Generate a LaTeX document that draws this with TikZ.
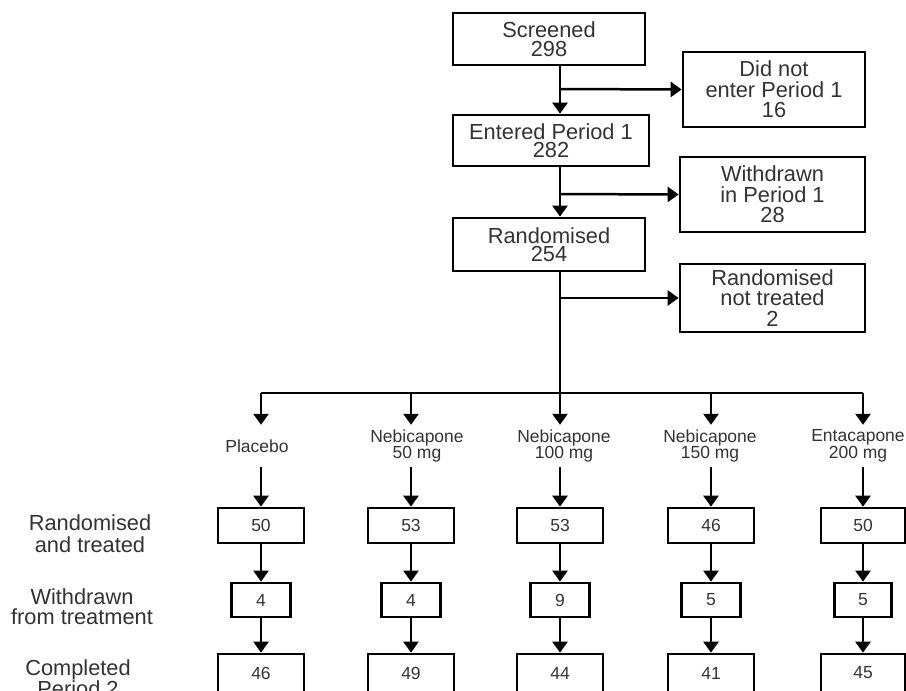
\documentclass[tikz,border=0pt]{standalone}
\usepackage{fontspec}
\setmainfont{Liberation Sans}
\usepackage{tikz}
\usetikzlibrary{arrows.meta}

\tikzset{
  flowbox/.style={draw=black, line width=2.7pt, text=black!80, align=center, inner sep=0pt},
  topbox/.style={flowbox, font=\fontsize{21.8}{18.5}\selectfont},
  sidebox/.style={flowbox, font=\fontsize{21.8}{20.5}\selectfont},
  numbox/.style={flowbox, font=\fontsize{17.5}{18}\selectfont},
  armlabel/.style={text=black!80, align=center, minimum height=42pt, inner sep=0pt, font=\fontsize{17.5}{16.5}\selectfont},
  rowlabel/.style={text=black!80, align=center, inner sep=0pt},
  arr/.style={line width=2.5pt, -{Triangle[width=15pt,length=11pt]}},
  ln/.style={line width=2.5pt}
}

\begin{document}
\begin{tikzpicture}[x=1pt, y=-1pt]
        \clip (0,0) rectangle (906,691);
        \fill[white] (0,0) rectangle (906,691);

        % main column
        \node[topbox, minimum width=192pt, minimum height=52pt] (screened) at (549, 39) {Screened\\298};
        \node[topbox, minimum width=196pt, minimum height=51pt] (entered) at (551, 140.5) {Entered Period 1\\282};
        \node[topbox, minimum width=192pt, minimum height=53pt] (random) at (549, 244.5) {Randomised\\254};

        % side boxes
        \node[sidebox, minimum width=182pt, minimum height=75pt] (noentry) at (774, 89.5) {Did not\\enter Period 1\\16};
        \node[sidebox, minimum width=185pt, minimum height=75pt] (wdperiod) at (772.5, 194.5) {Withdrawn\\in Period 1\\28};
        \node[sidebox, minimum width=185pt, minimum height=68pt] (nottreated) at (772.5, 298) {Randomised\\not treated\\2};

        \coordinate (b1) at (560, 89);
        \coordinate (b2) at (560, 194);
        \coordinate (b3) at (560, 298);
        \coordinate (split) at (560, 393);

        \draw[arr] (screened.south -| b1) -- (entered.north -| b1);
        \draw[arr] (b1) -- (noentry.west);
        \draw[arr] (entered.south -| b2) -- (random.north -| b2);
        \draw[arr] (b2) -- (wdperiod.west);
        \draw[ln] (random.south -| b3) -- (split);
        \draw[arr] (b3) -- (nottreated.west);

        % arms
        \coordinate (h1) at (261, 393);
        \coordinate (h5) at (863, 393);
        \draw[ln] (h1) -- (h5);

        \node[armlabel] (arm1) at (257, 446) {Placebo};
        \node[armlabel] (arm2) at (417, 446) {Nebicapone\\50 mg};
        \node[armlabel] (arm3) at (564, 446) {Nebicapone\\100 mg};
        \node[armlabel] (arm4) at (710, 446) {Nebicapone\\150 mg};
        \node[armlabel] (arm5) at (858, 446) {Entacapone\\200 mg};

        % randomised and treated
        \node[numbox, minimum width=86pt, minimum height=35pt] (rt1) at (261, 525.5) {50};
        \node[numbox, minimum width=86pt, minimum height=35pt] (rt2) at (411, 525.5) {53};
        \node[numbox, minimum width=86pt, minimum height=35pt] (rt3) at (560, 525.5) {53};
        \node[numbox, minimum width=86pt, minimum height=35pt] (rt4) at (711, 525.5) {46};
        \node[numbox, minimum width=84pt, minimum height=35pt] (rt5) at (863, 525.5) {50};

        % withdrawn from treatment
        \node[numbox, minimum width=59pt, minimum height=34pt] (wd1) at (261, 600) {4};
        \node[numbox, minimum width=59pt, minimum height=34pt] (wd2) at (411, 600) {4};
        \node[numbox, minimum width=59pt, minimum height=34pt] (wd3) at (560, 600) {9};
        \node[numbox, minimum width=59pt, minimum height=34pt] (wd4) at (711, 600) {5};
        \node[numbox, minimum width=57pt, minimum height=34pt] (wd5) at (863, 600) {5};

        % completed period 2
        \node[numbox, minimum width=86pt, minimum height=38pt] (cp1) at (261, 673) {46};
        \node[numbox, minimum width=86pt, minimum height=38pt] (cp2) at (411, 673) {49};
        \node[numbox, minimum width=86pt, minimum height=38pt] (cp3) at (560, 673) {44};
        \node[numbox, minimum width=86pt, minimum height=38pt] (cp4) at (711, 673) {41};
        \node[numbox, minimum width=84pt, minimum height=38pt] (cp5) at (863, 673) {45};

        \draw[arr] (h1) -- (h1 |- arm1.north);
        \draw[arr] (arm1.south -| rt1) -- (rt1.north);
        \draw[arr] (rt1) -- (wd1.north);
        \draw[arr] (wd1) -- (cp1.north);

        \draw[arr] (split -| rt2) -- (arm2.north -| rt2);
        \draw[arr] (arm2.south -| rt2) -- (rt2.north);
        \draw[arr] (rt2) -- (wd2.north);
        \draw[arr] (wd2) -- (cp2.north);

        \draw[arr] (split) -- (arm3.north -| split);
        \draw[arr] (arm3.south -| rt3) -- (rt3.north);
        \draw[arr] (rt3) -- (wd3.north);
        \draw[arr] (wd3) -- (cp3.north);

        \draw[arr] (split -| rt4) -- (arm4.north -| rt4);
        \draw[arr] (arm4.south -| rt4) -- (rt4.north);
        \draw[arr] (rt4) -- (wd4.north);
        \draw[arr] (wd4) -- (cp4.north);

        \draw[arr] (h5) -- (h5 |- arm5.north);
        \draw[arr] (arm5.south -| rt5) -- (rt5.north);
        \draw[arr] (rt5) -- (wd5.north);
        \draw[arr] (wd5) -- (cp5.north);

        % row labels
        \node[rowlabel, font=\fontsize{21.8}{22}\selectfont] (lrt) at (90, 534) {Randomised\\and treated};
        \node[rowlabel, font=\fontsize{21.8}{20}\selectfont] (lwd) at (82, 607) {Withdrawn\\from treatment};
        \node[rowlabel, font=\fontsize{21.8}{21}\selectfont] (lcp) at (78, 678) {Completed\\Period 2};
\end{tikzpicture}
\end{document}
